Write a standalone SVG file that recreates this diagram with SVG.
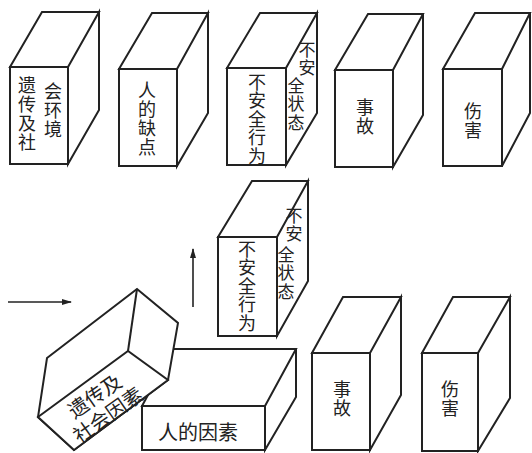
<svg xmlns="http://www.w3.org/2000/svg" width="532" height="453" viewBox="0 0 532 453">
<style>
.box{fill:#fff;stroke:#222;stroke-width:2;stroke-linejoin:miter}
.t{font-family:"Noto Sans CJK SC","Noto Sans CJK TC",sans-serif;font-size:18px;fill:#222;text-anchor:middle;dominant-baseline:central}
.v{writing-mode:vertical-rl;letter-spacing:0.5px}
.s{font-size:17px}
.b{font-size:20px}
.c{stroke:#222;stroke-width:1.6;fill:none}
</style>
<defs>
<marker id="ah" markerWidth="10" markerHeight="8" refX="9" refY="4" orient="auto" markerUnits="userSpaceOnUse">
<path d="M0,1 L10,4 L0,7 Z" fill="#222"/>
</marker>
</defs>
<rect width="532" height="453" fill="#fff"/>

<g id="connectors">
<line class="c" x1="8" y1="302" x2="71" y2="302" marker-end="url(#ah)"/>
<line class="c" x1="193" y1="307" x2="193" y2="249" marker-end="url(#ah)"/>
</g>

<g id="box1">
<path class="box" d="M10,67 H68 V164 H10 Z M10,67 L42,12 H99 L68,67 Z M99,12 V110 L68,164 V67 Z"/>
<text class="t v" x="27" y="114.5" style="letter-spacing:1px">遗传及社</text>
<text class="t v" x="53" y="111" style="letter-spacing:1px">会环境</text>
</g>

<g id="box2">
<path class="box" d="M119,69 H177 V166 H119 Z M119,69 L152,13 H208 L177,69 Z M208,13 V113 L177,166 V69 Z"/>
<text class="t v" x="147" y="119.5" style="letter-spacing:1px">人的缺点</text>
</g>

<g id="box3">
<path class="box" d="M227,68 H286 V165 H227 Z M227,68 L260,13 H317 L286,68 Z M317,13 V113 L286,165 V68 Z"/>
<text class="t v" x="257" y="119">不安全行为</text>
<text class="t v s" x="307" y="59" style="letter-spacing:1px">不安</text>
<text class="t v s" x="296" y="104.5" style="letter-spacing:1.5px">全状态</text>
</g>

<g id="box4">
<path class="box" d="M335,70 H393 V167 H335 Z M335,70 L368,14 H423 L393,70 Z M423,14 V115 L393,167 V70 Z"/>
<text class="t v" x="365" y="117">事故</text>
</g>

<g id="box5">
<path class="box" d="M443,69 H502 V166 H443 Z M443,69 L475,13 H530 L502,69 Z M530,13 V113 L502,166 V69 Z"/>
<text class="t v" x="473" y="121">伤害</text>
</g>

<g id="box6">
<path class="box" d="M218,237 H277 V336 H218 Z M218,237 L252,181 H308 L277,237 Z M308,181 V281 L277,336 V237 Z"/>
<text class="t v" x="247" y="286">不安全行为</text>
<text class="t v s" x="294" y="225">不安</text>
<text class="t v s" x="286" y="273.5" style="letter-spacing:1.5px">全状态</text>
</g>

<g id="box7">
<path class="box" d="M312,353 H370 V450 H312 Z M312,353 L343,297 H401 L370,353 Z M401,297 V395 L370,450 V353 Z"/>
<text class="t v" x="342" y="399">事故</text>
</g>

<g id="box8">
<path class="box" d="M422,353 H478 V451 H422 Z M422,353 L453,297 H510 L478,353 Z M510,297 V398 L478,451 V353 Z"/>
<text class="t v" x="450" y="399">伤害</text>
</g>

<g id="box-human">
<path class="box" d="M142,406 H265 V450 H142 Z M142,406 L173,349 H296 L265,406 Z M296,349 V397 L265,450 V406 Z"/>
<text class="t b" x="198" y="431">人的因素</text>
</g>

<g id="box-tilted">
<path class="box" d="M47,358 L137,289 L178,323 L168,380 L74,450 L38,417 Z"/>
<path class="box" d="M38,417 L128,351 L168,380 L74,450 Z"/>
<path class="box" fill="none" d="M137,289 L128,351"/>
<g transform="translate(101,405) rotate(-35)">
<text class="t b" x="0" y="-12">遗传及</text>
<text class="t b" x="0" y="11">社会因素</text>
</g>
</g>
</svg>
